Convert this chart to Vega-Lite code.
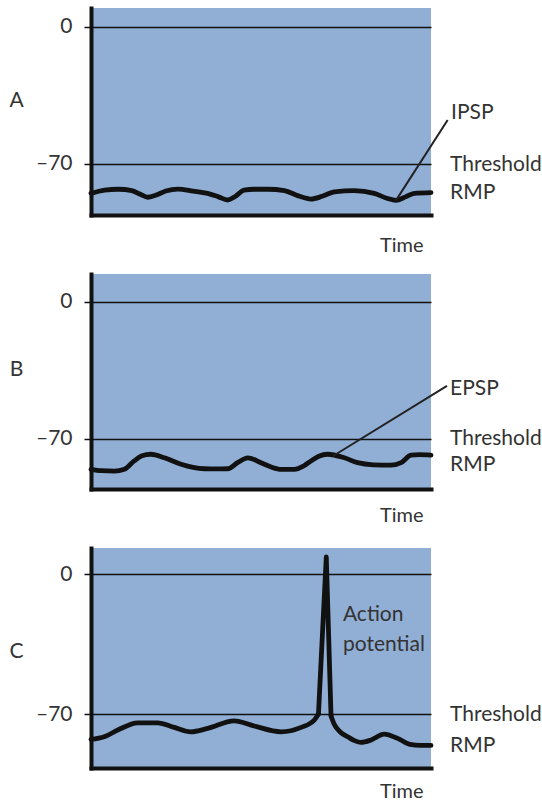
{
  "$schema": "https://vega.github.io/schema/vega-lite/v6.json",
  "padding": {"left": 8, "top": 8, "right": 0, "bottom": 0},
  "spacing": 59,
  "bounds": "flush",
  "config": {
    "view": {"stroke": null, "fill": "#91AFD5"},
    "font": "Lato",
    "axis": {
      "domainColor": "#111111", "domainWidth": 4, "domainCap": "square",
      "tickColor": "#111111", "tickWidth": 1.5,
      "labelFont": "Lato", "labelFontSize": 21, "labelColor": "#333333",
      "titleFont": "Lato", "titleFontWeight": "normal", "titleColor": "#333333",
      "gridColor": "#111111", "gridWidth": 1.5, "gridOpacity": 1
    },
    "axisX": {"ticks": false, "labels": false, "grid": false, "titleFontSize": 20, "titleX": 332, "titleAlign": "right", "titleBaseline": "alphabetic"},
    "axisY": {"tickSize": 7, "labelPadding": 12, "grid": true, "titleAngle": 0, "titleX": -75, "titleAlign": "center", "titleBaseline": "middle", "titleFontSize": 21}
  },
  "vconcat": [
    {
      "width": 340, "height": 207,
      "layer": [
        {
          "data": {"values": [
            {"t": 0, "v": -85}, {"t": 4, "v": -83.3}, {"t": 8, "v": -82.9}, {"t": 12, "v": -83.6}, {"t": 14.5, "v": -85.5}, {"t": 16.7, "v": -87}, {"t": 19, "v": -86}, {"t": 22, "v": -83.8}, {"t": 25.5, "v": -82.8}, {"t": 30, "v": -83.8}, {"t": 34.3, "v": -85}, {"t": 37.5, "v": -86.8}, {"t": 40.2, "v": -88.4}, {"t": 42.5, "v": -86.5}, {"t": 45, "v": -83.3}, {"t": 48, "v": -82.9}, {"t": 52, "v": -82.9}, {"t": 56.9, "v": -83.6}, {"t": 61, "v": -86.3}, {"t": 64.7, "v": -87.9}, {"t": 68, "v": -86.5}, {"t": 71.6, "v": -84.2}, {"t": 77.4, "v": -83.6}, {"t": 83.3, "v": -85}, {"t": 87, "v": -87.5}, {"t": 89.7, "v": -88.6}, {"t": 92.5, "v": -86.8}, {"t": 95.1, "v": -85}, {"t": 100, "v": -84.6}
          ]},
          "mark": {"type": "line", "interpolate": "monotone", "stroke": "#111111", "strokeWidth": 4.8, "strokeCap": "round", "strokeJoin": "round"},
          "encoding": {
            "x": {"field": "t", "type": "quantitative", "scale": {"domain": [0, 100], "nice": false, "zero": false}, "axis": {"title": "Time", "titleY": 36}},
            "y": {"field": "v", "type": "quantitative", "scale": {"domain": [-96.06, 9.7], "nice": false, "zero": false}, "axis": {"title": "A", "titleY": 92, "values": [0, -70], "labelExpr": "datum.value == 0 ? '0' : '–70'"}}
          }
        },
        {
          "data": {"values": [{"t": 89.7, "v": -88.6, "t2": 104.9, "v2": -47.5}]},
          "mark": {"type": "rule", "stroke": "#222222", "strokeWidth": 2},
          "encoding": {"x": {"field": "t", "type": "quantitative"}, "y": {"field": "v", "type": "quantitative"}, "x2": {"field": "t2"}, "y2": {"field": "v2"}}
        },
        {
          "data": {"values": [{"t": 105.9, "v": -44, "label": "IPSP"}, {"t": 105.6, "v": -70.3, "label": "Threshold"}, {"t": 105.6, "v": -84.8, "label": "RMP"}]},
          "mark": {"type": "text", "align": "left", "baseline": "middle", "fontSize": 21, "font": "Lato", "color": "#333333"},
          "encoding": {"x": {"field": "t", "type": "quantitative"}, "y": {"field": "v", "type": "quantitative"}, "text": {"field": "label"}}
        }
      ]
    },
    {
      "width": 340, "height": 215,
      "layer": [
        {
          "data": {"values": [
            {"t": 0, "v": -85.5}, {"t": 3, "v": -86.2}, {"t": 6.9, "v": -86.4}, {"t": 9.8, "v": -85.5}, {"t": 12.7, "v": -81.2}, {"t": 15, "v": -78.6}, {"t": 17.6, "v": -77.8}, {"t": 21.6, "v": -79.6}, {"t": 26.5, "v": -82.9}, {"t": 30, "v": -84.5}, {"t": 33.3, "v": -85.2}, {"t": 37, "v": -85.3}, {"t": 40.2, "v": -85.2}, {"t": 43.1, "v": -82.1}, {"t": 46.1, "v": -79.6}, {"t": 50, "v": -82.1}, {"t": 53, "v": -84.3}, {"t": 55.9, "v": -85.5}, {"t": 59.8, "v": -85.5}, {"t": 62.5, "v": -83.8}, {"t": 64.7, "v": -81.2}, {"t": 67, "v": -78.8}, {"t": 69.6, "v": -77.8}, {"t": 74.5, "v": -79.6}, {"t": 78.4, "v": -82.1}, {"t": 83, "v": -83.2}, {"t": 88.2, "v": -83.4}, {"t": 91.2, "v": -82.1}, {"t": 94.1, "v": -78.3}, {"t": 96.5, "v": -78}, {"t": 100, "v": -78.2}
          ]},
          "mark": {"type": "line", "interpolate": "monotone", "stroke": "#111111", "strokeWidth": 4.8, "strokeCap": "round", "strokeJoin": "round"},
          "encoding": {
            "x": {"field": "t", "type": "quantitative", "scale": {"domain": [0, 100], "nice": false, "zero": false}, "axis": {"title": "Time", "titleY": 32}},
            "y": {"field": "v", "type": "quantitative", "scale": {"domain": [-95.55, 14.3], "nice": false, "zero": false}, "axis": {"title": "B", "titleY": 95, "values": [0, -70], "labelExpr": "datum.value == 0 ? '0' : '–70'"}}
          }
        },
        {
          "data": {"values": [{"t": 71.2, "v": -78.7, "t2": 104.7, "v2": -42.9}]},
          "mark": {"type": "rule", "stroke": "#222222", "strokeWidth": 2},
          "encoding": {"x": {"field": "t", "type": "quantitative"}, "y": {"field": "v", "type": "quantitative"}, "x2": {"field": "t2"}, "y2": {"field": "v2"}}
        },
        {
          "data": {"values": [{"t": 105.6, "v": -44.5, "label": "EPSP"}, {"t": 105.6, "v": -70, "label": "Threshold"}, {"t": 105.6, "v": -83.5, "label": "RMP"}]},
          "mark": {"type": "text", "align": "left", "baseline": "middle", "fontSize": 21, "font": "Lato", "color": "#333333"},
          "encoding": {"x": {"field": "t", "type": "quantitative"}, "y": {"field": "v", "type": "quantitative"}, "text": {"field": "label"}}
        }
      ]
    },
    {
      "width": 340, "height": 220,
      "layer": [
        {
          "data": {"values": [
            {"seg": "a", "t": 0, "v": -82.7}, {"seg": "a", "t": 3.9, "v": -81.4}, {"seg": "a", "t": 7.9, "v": -78}, {"seg": "a", "t": 13.7, "v": -74.4}, {"seg": "a", "t": 19.6, "v": -74.4}, {"seg": "a", "t": 24.5, "v": -76.7}, {"seg": "a", "t": 29.4, "v": -78.9}, {"seg": "a", "t": 34.3, "v": -77.2}, {"seg": "a", "t": 42.1, "v": -73.4}, {"seg": "a", "t": 48, "v": -76}, {"seg": "a", "t": 55.9, "v": -78.9}, {"seg": "a", "t": 61.8, "v": -76.7}, {"seg": "a", "t": 65.7, "v": -73}, {"seg": "a", "t": 66.9, "v": -70},
            {"seg": "b", "t": 70.6, "v": -71}, {"seg": "b", "t": 71.5, "v": -75}, {"seg": "b", "t": 73.3, "v": -79}, {"seg": "b", "t": 75.5, "v": -81.4}, {"seg": "b", "t": 77.5, "v": -83.3}, {"seg": "b", "t": 79.4, "v": -84.2}, {"seg": "b", "t": 82.4, "v": -83}, {"seg": "b", "t": 86.2, "v": -80.1}, {"seg": "b", "t": 90.2, "v": -82.2}, {"seg": "b", "t": 93.8, "v": -85.2}, {"seg": "b", "t": 97, "v": -85.7}, {"seg": "b", "t": 100, "v": -85.7}
          ]},
          "mark": {"type": "line", "interpolate": "monotone", "stroke": "#111111", "strokeWidth": 4.8, "strokeCap": "round", "strokeJoin": "round"},
          "encoding": {
            "x": {"field": "t", "type": "quantitative", "scale": {"domain": [0, 100], "nice": false, "zero": false}, "axis": {"title": "Time", "titleY": 29}},
            "y": {"field": "v", "type": "quantitative", "scale": {"domain": [-97, 13], "nice": false, "zero": false}, "axis": {"title": "C", "titleY": 103, "values": [0, -70], "labelExpr": "datum.value == 0 ? '0' : '–70'"}},
            "detail": {"field": "seg"}
          }
        },
        {
          "data": {"values": [{"t": 66.9, "v": -70}, {"t": 69.2, "v": 8.5}, {"t": 70.6, "v": -71}]},
          "mark": {"type": "line", "interpolate": "linear", "stroke": "#111111", "strokeWidth": 4.8, "strokeCap": "round", "strokeJoin": "round"},
          "encoding": {"x": {"field": "t", "type": "quantitative"}, "y": {"field": "v", "type": "quantitative"}}
        },
        {
          "data": {"values": [{"t": 74.1, "v": -20.5, "label": "Action"}, {"t": 74.1, "v": -35.5, "label": "potential"}, {"t": 105.6, "v": -70.3, "label": "Threshold"}, {"t": 105.6, "v": -86, "label": "RMP"}]},
          "mark": {"type": "text", "align": "left", "baseline": "middle", "fontSize": 21, "font": "Lato", "color": "#333333"},
          "encoding": {"x": {"field": "t", "type": "quantitative"}, "y": {"field": "v", "type": "quantitative"}, "text": {"field": "label"}}
        }
      ]
    }
  ]
}
